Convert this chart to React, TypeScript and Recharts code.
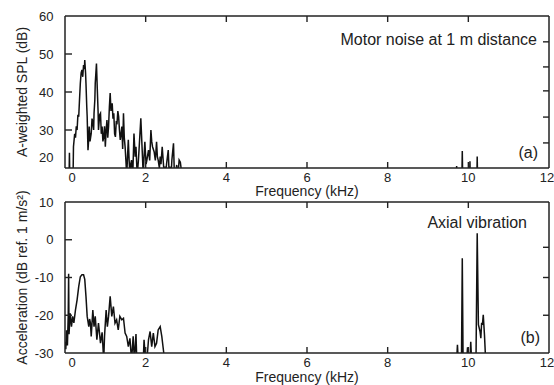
import { LineChart, Line, XAxis, YAxis } from "recharts";

// (a) motor noise, A-weighted SPL in dB
const splFreq = [
  0, 0.09, 0.11, 0.13, 0.19, 0.21, 0.24, 0.26, 0.28, 0.3,
  0.32, 0.34, 0.36, 0.38, 0.4, 0.42, 0.44, 0.46, 0.48, 0.49,
  0.51, 0.52, 0.54, 0.55, 0.57, 0.59, 0.6, 0.62, 0.65, 0.67,
  0.69, 0.71, 0.72, 0.74, 0.75, 0.78, 0.8, 0.82, 0.83, 0.86,
  0.88, 0.9, 0.92, 0.94, 0.96, 0.98, 1.0, 1.02, 1.04, 1.06,
  1.08, 1.1, 1.12, 1.14, 1.17, 1.19, 1.21, 1.23, 1.25, 1.27,
  1.29, 1.31, 1.33, 1.35, 1.37, 1.39, 1.41, 1.43, 1.45, 1.47,
  1.49, 1.51, 1.53, 1.55, 1.57, 1.59, 1.61, 1.63, 1.65, 1.68,
  1.71, 1.74, 1.76, 1.79, 1.82, 1.84, 1.88, 1.91, 1.94, 1.96,
  1.98, 2.01, 2.03, 2.07, 2.1, 2.13, 2.15, 2.17, 2.21, 2.24,
  2.27, 2.29, 2.31, 2.34, 2.36, 2.38, 2.41, 2.44, 2.46, 2.48,
  2.5, 2.52, 2.56, 2.58, 2.6, 2.63, 2.65, 2.69, 2.71, 2.73,
  2.77, 2.8, 2.83, 2.86, 2.89, 2.92, 9.69, 9.71, 9.73, 9.83,
  9.85, 9.87, 10.02, 10.04, 10.06, 10.2, 10.22, 10.24, 12,
];
const splLevel = [
  10, 10, 24, 10, 10, 25.6, 29, 28, 31, 30,
  34, 33.5, 38, 42.3, 45, 45.8, 44, 47.1, 46, 48.4,
  45, 42.3, 36, 33.5, 24.7, 28, 30.9, 27, 29.1, 33,
  31.8, 30, 34.4, 38, 42.3, 47.5, 41, 35, 30, 34,
  34.4, 29, 30.9, 27, 28.2, 31, 25.6, 30, 32.6, 28,
  30.9, 36, 39.7, 35, 37, 33, 34.4, 29, 28.2, 32,
  31.8, 35, 33.5, 30, 27.4, 29, 30.9, 25, 34.4, 28,
  25.6, 22, 18, 23, 27.4, 22, 18, 21, 22.1, 18,
  29.1, 23, 25.6, 18, 22, 25.6, 33.1, 25.6, 18, 23,
  26.9, 21, 22.1, 24.7, 22, 30, 27, 25.6, 24.3, 22,
  26.9, 23, 22.1, 20, 23, 21, 25.6, 21.2, 18, 20.4,
  19, 21.2, 24.7, 19, 20.4, 18, 22.1, 26.5, 19, 18,
  20.8, 18, 22.1, 21.5, 19, 10, 10, 20.5, 10, 10,
  24.5, 10, 10, 21.8, 10, 10, 23, 10, 10,
];

// (b) axial vibration, dB ref. 1 m/s^2
const accFreq = [
  0, 0.02, 0.04, 0.06, 0.08, 0.09, 0.1, 0.11, 0.13, 0.16,
  0.19, 0.22, 0.26, 0.3, 0.34, 0.38, 0.42, 0.46, 0.49, 0.52,
  0.55, 0.59, 0.61, 0.63, 0.65, 0.69, 0.72, 0.75, 0.79, 0.83,
  0.88, 0.92, 0.96, 0.98, 1.02, 1.05, 1.08, 1.12, 1.16, 1.2,
  1.24, 1.28, 1.32, 1.36, 1.41, 1.45, 1.49, 1.53, 1.57, 1.61,
  1.65, 1.69, 1.72, 1.76, 1.78, 1.94, 1.96, 1.98, 2.03, 2.07,
  2.11, 2.15, 2.19, 2.23, 2.27, 2.31, 2.36, 2.4, 2.44, 2.47,
  9.71, 9.73, 9.75, 9.83, 9.85, 9.87, 9.96, 9.98, 10.0, 10.04,
  10.06, 10.08, 10.19, 10.22, 10.25, 10.29, 10.31, 10.33, 10.35, 10.37,
  10.4, 10.43, 12,
];
const accLevel = [
  -27, -29, -24, -28, -20, -9, -25, -23, -19.5, -23,
  -20.3, -22, -18.6, -15.9, -12.4, -9.8, -9.3, -9.3, -10.5, -15,
  -20.3, -23, -21, -22, -25.6, -18.6, -23, -20.3, -26.5, -22.1,
  -27.4, -24.5, -32, -25.6, -18.6, -23, -20.3, -15, -20.3, -17.7,
  -22.1, -21.2, -23.9, -20.3, -21.2, -20.8, -24.7, -25.6, -28.3, -26.1,
  -32, -25.6, -32, -25, -32, -32, -26.5, -29.6, -32, -26.5,
  -24.3, -28.3, -24.7, -28.3, -27.4, -23.9, -23, -25.6, -29.2, -32,
  -32, -27.8, -32, -32, -4.9, -32, -32, -28.5, -32, -32,
  -27, -32, -32, 1.7, -22.5, -24.3, -26.1, -22, -22.5, -19.9,
  -25.2, -32, -32,
];

const freqTicks = [0, 2, 4, 6, 8, 10, 12];
const innerFreqTicks = [2, 4, 6, 8, 10];
const splTicks = [20, 30, 40, 50, 60];
const splRightTicks = [26.6, 33.4, 40.3, 46.6, 53.2];
const accTicks = [-30, -20, -10, 0, 10];
const accRightTicks = [-20, -10, -2];

const splData = splFreq.map((f, i) => ({ f, v: splLevel[i] }));
const accData = accFreq.map((f, i) => ({ f, v: accLevel[i] }));

const ink = "#222";
const X_GAP = 5; // gap axis -> x tick label
const Y_GAP = 11.5; // gap axis -> y tick label end
const FREQ_MAX = 12;

// plot box geometry (same numbers as the chart margins below)
const PLOT_LEFT = 65;
const PLOT_RIGHT = 549;
const MARGIN_TOP = 15;
const TOP_AXIS_H = 1;
const TICK_PX = 6;

function FreqTick(props: any) {
  const { x, y, payload } = props;
  const v = payload.value;
  const dx = v === 0 ? 7 : v === 12 ? -2 : 0;
  return (
    <text x={x + dx} y={y} dy="0.71em" textAnchor="middle" fontSize={13} fill={ink}>
      {v}
    </text>
  );
}

function LevelTick(props: any) {
  const { x, y, payload, lift = 0 } = props;
  return (
    <text x={x} y={y - lift} dy="0.355em" textAnchor="end" fontSize={13} fill={ink}>
      {payload.value}
    </text>
  );
}

// inward tick marks of one panel's frame
function FrameTicks({
  top,
  plotH,
  domain,
  ticks,
  rightTicks,
}: {
  top: number;
  plotH: number;
  domain: [number, number];
  ticks: number[];
  rightTicks: number[];
}) {
  const [lo, hi] = domain;
  const sx = (f: number) => PLOT_LEFT + (f / FREQ_MAX) * (PLOT_RIGHT - PLOT_LEFT);
  const sy = (v: number) => top + ((hi - v) / (hi - lo)) * plotH;
  const bottomY = top + plotH;
  return (
    <g stroke={ink} strokeWidth={1.4}>
      {innerFreqTicks.map((t) => (
        <line key={`t${t}`} x1={sx(t)} x2={sx(t)} y1={top} y2={top + TICK_PX} />
      ))}
      {innerFreqTicks.map((t) => (
        <line key={`b${t}`} x1={sx(t)} x2={sx(t)} y1={bottomY} y2={bottomY - TICK_PX} />
      ))}
      {ticks
        .filter((t) => t > lo && t < hi)
        .map((t) => (
          <line key={`l${t}`} x1={PLOT_LEFT} x2={PLOT_LEFT + TICK_PX + 1} y1={sy(t)} y2={sy(t)} />
        ))}
      {rightTicks.map((t) => (
        <line key={`r${t}`} x1={PLOT_RIGHT - TICK_PX} x2={PLOT_RIGHT} y1={sy(t)} y2={sy(t)} />
      ))}
    </g>
  );
}

function Panel({
  data,
  domain,
  ticks,
  rightTicks,
  yLabel,
  height,
  bottom,
  xAxisHeight,
  liftBottomTick,
}: {
  data: { f: number; v: number }[];
  domain: [number, number];
  ticks: number[];
  rightTicks: number[];
  yLabel: string;
  height: number;
  bottom: number;
  xAxisHeight: number;
  liftBottomTick: number;
}) {
  const SplTick = (p: any) => (
    <LevelTick {...p} lift={p.payload.value === domain[0] ? liftBottomTick : 0} />
  );
  return (
    <LineChart
      width={554}
      height={height}
      data={data}
      margin={{ top: MARGIN_TOP, right: 554 - PLOT_RIGHT - 1, bottom, left: 0 }}
    >
      <XAxis
        xAxisId="b"
        dataKey="f"
        type="number"
        domain={[0, FREQ_MAX]}
        ticks={freqTicks}
        interval={0}
        allowDataOverflow
        stroke={ink}
        strokeWidth={1.5}
        tickLine={false}
        tickSize={0}
        tickMargin={X_GAP}
        tick={FreqTick}
        height={xAxisHeight}
        label={{ value: "Frequency (kHz)", position: "insideBottom", offset: 0, fontSize: 14, fill: ink }}
      />
      <XAxis
        xAxisId="t"
        orientation="top"
        dataKey="f"
        type="number"
        domain={[0, FREQ_MAX]}
        ticks={innerFreqTicks}
        interval={0}
        allowDataOverflow
        stroke={ink}
        strokeWidth={1.5}
        tickLine={false}
        tick={false}
        height={TOP_AXIS_H}
      />
      <YAxis
        yAxisId="l"
        type="number"
        domain={domain}
        ticks={ticks}
        interval={0}
        allowDataOverflow
        width={PLOT_LEFT}
        stroke={ink}
        strokeWidth={1.5}
        tickLine={false}
        tickSize={0}
        tickMargin={Y_GAP}
        tick={SplTick}
        label={{
          value: yLabel,
          angle: -90,
          position: "insideLeft",
          offset: 22,
          fontSize: 14,
          fill: ink,
          style: { textAnchor: "middle" },
        }}
      />
      <YAxis
        yAxisId="r"
        orientation="right"
        type="number"
        domain={domain}
        ticks={rightTicks}
        interval={0}
        allowDataOverflow
        width={1}
        stroke={ink}
        strokeWidth={1.5}
        tickLine={false}
        tick={false}
      />
      <Line
        xAxisId="b"
        yAxisId="l"
        dataKey="v"
        type="linear"
        dot={false}
        stroke="#111"
        strokeWidth={1.5}
        isAnimationActive={false}
      />
    </LineChart>
  );
}

// vertical layout of the two panels
const TOP_PANEL = { top: 0, height: 200, bottom: 4, xAxisHeight: 28 };
const BOTTOM_PANEL = { top: 186, height: 199, bottom: 3, xAxisHeight: 29 };
const plotHeight = (p: typeof TOP_PANEL) =>
  p.height - p.bottom - p.xAxisHeight - MARGIN_TOP - TOP_AXIS_H;
const plotTop = (p: typeof TOP_PANEL) => p.top + MARGIN_TOP + TOP_AXIS_H;

export default function App() {
  return (
    <div
      style={{
        position: "absolute",
        left: 0,
        top: 0,
        width: 554,
        height: 385,
        background: "#fff",
        fontFamily: "'Liberation Sans', Arial, Helvetica, sans-serif",
      }}
    >
      <div style={{ position: "absolute", left: 0, top: TOP_PANEL.top }}>
        <Panel
          data={splData}
          domain={[20, 60]}
          ticks={splTicks}
          rightTicks={splRightTicks}
          yLabel="A-weighted SPL (dB)"
          height={TOP_PANEL.height}
          bottom={TOP_PANEL.bottom}
          xAxisHeight={TOP_PANEL.xAxisHeight}
          liftBottomTick={11}
        />
      </div>
      <div style={{ position: "absolute", left: 0, top: BOTTOM_PANEL.top }}>
        <Panel
          data={accData}
          domain={[-30, 10]}
          ticks={accTicks}
          rightTicks={accRightTicks}
          yLabel="Acceleration (dB ref. 1 m/s²)"
          height={BOTTOM_PANEL.height}
          bottom={BOTTOM_PANEL.bottom}
          xAxisHeight={BOTTOM_PANEL.xAxisHeight}
          liftBottomTick={0}
        />
      </div>
      <svg
        width={554}
        height={385}
        style={{ position: "absolute", left: 0, top: 0, pointerEvents: "none" }}
      >
        <FrameTicks
          top={plotTop(TOP_PANEL)}
          plotH={plotHeight(TOP_PANEL)}
          domain={[20, 60]}
          ticks={splTicks}
          rightTicks={splRightTicks}
        />
        <FrameTicks
          top={plotTop(BOTTOM_PANEL)}
          plotH={plotHeight(BOTTOM_PANEL)}
          domain={[-30, 10]}
          ticks={accTicks}
          rightTicks={accRightTicks}
        />
        <g fontSize={16} fill={ink} textAnchor="end">
          <text x={537} y={45}>Motor noise at 1 m distance</text>
          <text x={538} y={158}>(a)</text>
          <text x={527} y={228}>Axial vibration</text>
          <text x={540} y={343}>(b)</text>
        </g>
      </svg>
    </div>
  );
}
